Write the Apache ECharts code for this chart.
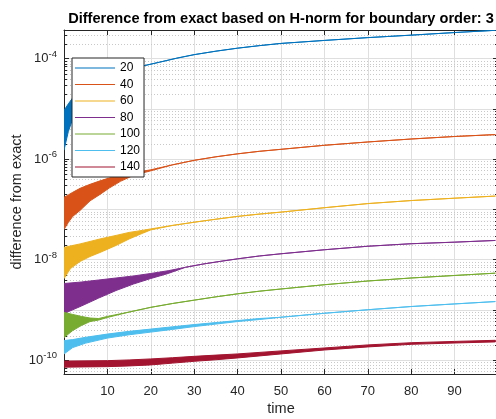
<!DOCTYPE html>
<html><head><meta charset="utf-8">
<script src="https://cdn.jsdelivr.net/npm/echarts@6/dist/echarts.min.js"></script>
<style>html,body{margin:0;padding:0;background:#fff}#c{width:496px;height:419px}</style>
</head><body><div id="c"></div>
<script>
// ---- data ----
const seriesNames = ['20','40','60','80','100','120','140'];

const time20  = [0,1,2,4,8,12,18,22,26,30,35,40,45,50,60,70,80,90,99.4];
const upper20 = [9.33e-6,1.26e-5,1.66e-5,2.51e-5,3.98e-5,5.25e-5,7.10e-5,8.51e-5,1.023e-4,1.202e-4,1.409e-4,1.618e-4,1.816e-4,2.01e-4,2.307e-4,2.624e-4,2.938e-4,3.311e-4,3.664e-4];
const lower20 = [1.51e-6,3.55e-6,6.31e-6,1.26e-5,2.51e-5,4.47e-5,7.10e-5,8.51e-5,1.023e-4,1.202e-4,1.409e-4,1.618e-4,1.816e-4,2.01e-4,2.307e-4,2.624e-4,2.938e-4,3.311e-4,3.664e-4];

const time40  = [0,1,2,3.7,6,8.3,10.5,13,16,20,25,30,35,40,45,50,60,70,80,90,99.4];
const upper40 = [1.734e-7,1.945e-7,2.183e-7,2.624e-7,3.155e-7,3.698e-7,4.246e-7,4.764e-7,5.346e-7,6.138e-7,7.71e-7,9.48e-7,1.114e-6,1.276e-6,1.432e-6,1.570e-6,1.888e-6,2.198e-6,2.518e-6,2.825e-6,3.083e-6];
const lower40 = [4.00e-8,5.508e-8,7.26e-8,9.55e-8,1.479e-7,1.991e-7,2.685e-7,3.614e-7,4.764e-7,5.861e-7,7.71e-7,9.48e-7,1.114e-6,1.276e-6,1.432e-6,1.570e-6,1.888e-6,2.198e-6,2.518e-6,2.825e-6,3.083e-6];

const time60  = [0,1.5,3.7,6,8.3,12,15,18,20,25,30,35,40,45,50,60,70,80,90,99.4];
const upper60 = [1.750e-8,1.875e-8,2.056e-8,2.301e-8,2.582e-8,3.034e-8,3.483e-8,3.819e-8,4.093e-8,4.797e-8,5.559e-8,6.383e-8,7.26e-8,8.072e-8,8.83e-8,1.081e-7,1.306e-7,1.500e-7,1.671e-7,1.841e-7];
const lower60 = [4.217e-9,6.668e-9,9.204e-9,1.156e-8,1.390e-8,1.919e-8,2.582e-8,3.327e-8,3.908e-8,4.797e-8,5.559e-8,6.383e-8,7.26e-8,8.072e-8,8.83e-8,1.081e-7,1.306e-7,1.500e-7,1.671e-7,1.841e-7];

const time80  = [0,4,8,12,16,20,24,28,32,36,40,45,50,60,70,80,90,99.4];
const upper80 = [3.350e-9,3.589e-9,3.936e-9,4.315e-9,4.732e-9,5.309e-9,6.026e-9,7.047e-9,8.166e-9,9.247e-9,1.038e-8,1.183e-8,1.309e-8,1.574e-8,1.849e-8,2.075e-8,2.228e-8,2.410e-8];
const lower80 = [8.45e-10,1.194e-9,1.722e-9,2.432e-9,3.273e-9,4.217e-9,5.309e-9,7.047e-9,8.166e-9,9.247e-9,1.038e-8,1.183e-8,1.309e-8,1.574e-8,1.849e-8,2.075e-8,2.228e-8,2.410e-8];

const time100  = [0,2,4,6,8,10,15,20,25,30,35,40,45,50,60,70,80,90,99.4];
const upper100 = [8.913e-10,8.128e-10,7.413e-10,6.887e-10,6.730e-10,7.413e-10,9.057e-10,1.125e-9,1.340e-9,1.563e-9,1.820e-9,2.089e-9,2.355e-9,2.606e-9,3.170e-9,3.758e-9,4.315e-9,4.842e-9,5.383e-9];
const lower100 = [2.812e-10,3.882e-10,4.887e-10,5.861e-10,6.281e-10,7.079e-10,9.057e-10,1.125e-9,1.340e-9,1.563e-9,1.820e-9,2.089e-9,2.355e-9,2.606e-9,3.170e-9,3.758e-9,4.315e-9,4.842e-9,5.383e-9];

const time120  = [0,2,5,10,15,20,25,30,35,40,45,50,60,70,80,90,99.4];
const upper120 = [2.449e-10,2.564e-10,2.851e-10,3.304e-10,3.741e-10,4.150e-10,4.613e-10,5.105e-10,5.598e-10,6.138e-10,6.730e-10,7.145e-10,8.57e-10,1.007e-9,1.167e-9,1.315e-9,1.466e-9];
const lower120 = [1.327e-10,1.778e-10,2.183e-10,2.748e-10,3.199e-10,3.614e-10,4.093e-10,4.656e-10,5.224e-10,5.861e-10,6.427e-10,7.145e-10,8.57e-10,1.007e-9,1.167e-9,1.315e-9,1.466e-9];

const time140  = [0,10,15,20,25,30,35,40,50,60,70,80,90,99.4];
const upper140 = [9.57e-11,9.77e-11,1.009e-10,1.057e-10,1.117e-10,1.191e-10,1.259e-10,1.330e-10,1.528e-10,1.746e-10,2.010e-10,2.223e-10,2.360e-10,2.483e-10];
const lower140 = [7.26e-11,7.43e-11,7.67e-11,8.04e-11,8.73e-11,9.48e-11,1.019e-10,1.107e-10,1.330e-10,1.592e-10,1.832e-10,2.065e-10,2.193e-10,2.307e-10];

const xTickValues = [10,20,30,40,50,60,70,80,90];
const yLabelExponents = [-4,-6,-8,-10];
const minorMantissas = [2,3,4,5,6,7,8,9];
const minorDecades = [-11,-10,-9,-8,-7,-6,-5,-4];

// ---- styles ----
const colors = ['#0072BD','#D95319','#EDB120','#7E2F8E','#77AC30','#4DBEEE','#A2142F'];
const FONT = '"Liberation Sans", Arial, Helvetica, sans-serif';
const AX = '#262626';
const X_MIN = 0, X_MAX = 100, Y_MIN = 5.3e-11, Y_MAX = 3.72e-4;

const bands = [
  [time20, upper20, lower20],
  [time40, upper40, lower40],
  [time60, upper60, lower60],
  [time80, upper80, lower80],
  [time100, upper100, lower100],
  [time120, upper120, lower120],
  [time140, upper140, lower140]
];

function bandSeries(name, color, t, hi, lo) {
  const pts = t.map((x, i) => [x, hi[i]]).concat(t.map((x, i) => [x, lo[i]]).reverse());
  return {
    type: 'custom', name: name, coordinateSystem: 'cartesian2d',
    xAxisIndex: 0, yAxisIndex: 0, clip: true, z: 3,
    itemStyle: { color: color },
    data: pts,
    encode: { x: 0, y: 1 },
    renderItem: function (params, api) {
      if (params.dataIndex !== 0) return null;
      const poly = pts.map(p => api.coord(p));
      return {
        type: 'polygon',
        shape: { points: poly },
        style: { fill: color, stroke: color, lineWidth: 1, lineJoin: 'round' }
      };
    }
  };
}

const minorValues = [];
minorDecades.forEach(d => minorMantissas.forEach(m => {
  const v = m * Math.pow(10, d);
  if (v > Y_MIN && v < Y_MAX) minorValues.push(v);
}));

const minorGridSeries = {
  type: 'custom', name: 'minorGrid', silent: true, z: 1,
  coordinateSystem: 'cartesian2d', xAxisIndex: 0, yAxisIndex: 0,
  data: minorValues.map(v => [X_MIN, v]),
  encode: { x: 0, y: 1 },
  renderItem: function (params, api) {
    const v = api.value(1);
    const a = api.coord([X_MIN, v]);
    const b = api.coord([X_MAX, v]);
    const y = Math.round(a[1]) + 0.5;
    return {
      type: 'group', children: [
        { type: 'line', shape: { x1: a[0], y1: y, x2: b[0], y2: y }, style: { stroke: '#c8c8c8', lineWidth: 1, lineDash: [1, 2] } },
        { type: 'line', shape: { x1: a[0], y1: y, x2: a[0] + 3, y2: y }, style: { stroke: AX, lineWidth: 1 } },
        { type: 'line', shape: { x1: b[0] - 3, y1: y, x2: b[0], y2: y }, style: { stroke: AX, lineWidth: 1 } }
      ]
    };
  }
};

function yLabel(value) {
  const e = Math.log10(value);
  const r = Math.round(e);
  if (Math.abs(e - r) > 1e-6) return '';
  if (yLabelExponents.indexOf(r) < 0) return '';
  return '{b|10}{s|' + r + '}';
}

const chart = echarts.init(document.getElementById('c'), null, { renderer: 'canvas' });
chart.setOption({
  animation: false,
  backgroundColor: '#fff',
  textStyle: { fontFamily: FONT },
  title: {
    text: 'Difference from exact based on H-norm for boundary order: 3',
    left: 281, top: 11, textAlign: 'center', padding: 0,
    textStyle: { fontSize: 14.6, fontWeight: 'bold', color: '#000', fontFamily: FONT }
  },
  grid: { left: 64, top: 30, width: 434, height: 344, containLabel: false, outerBoundsMode: 'none' },
  legend: {
    orient: 'vertical', left: 72, top: 58,
    data: seriesNames.map((n, i) => ({ name: n, icon: 'rect', itemStyle: { color: colors[i] } })),
    itemWidth: 40, itemHeight: 1, itemGap: 2.5,
    textStyle: { fontSize: 12, color: '#000', lineHeight: 14, fontFamily: FONT },
    backgroundColor: '#fff', borderColor: AX, borderWidth: 1, padding: [3, 4, 3, 3],
    selectedMode: false, z: 10
  },
  xAxis: [
    {
      type: 'value', position: 'bottom', min: X_MIN, max: X_MAX, interval: 10,
      axisLine: { show: true, onZero: false, lineStyle: { color: AX, width: 1 } },
      axisTick: { show: true, inside: true, length: 5, lineStyle: { color: AX } },
      axisLabel: {
        showMinLabel: false, showMaxLabel: false, color: AX, fontSize: 13, margin: 11, fontFamily: FONT,
        formatter: v => (xTickValues.indexOf(v) >= 0 ? String(v) : '')
      },
      splitLine: { show: true, lineStyle: { color: '#dfdfdf', width: 1 } },
      name: 'time', nameLocation: 'middle', nameGap: 27, nameMoveOverlap: false,
      nameTextStyle: { fontSize: 14.5, color: AX, fontFamily: FONT }
    },
    {
      type: 'value', position: 'top', min: X_MIN, max: X_MAX, interval: 10,
      axisLine: { show: true, onZero: false, lineStyle: { color: AX, width: 1 } },
      axisTick: { show: true, inside: true, length: 5, lineStyle: { color: AX } },
      axisLabel: { show: false }, splitLine: { show: false }
    }
  ],
  yAxis: [
    {
      type: 'log', logBase: 10, min: Y_MIN, max: Y_MAX, position: 'left',
      axisLine: { show: true, onZero: false, lineStyle: { color: AX, width: 1 } },
      axisTick: { show: true, inside: true, length: 5, lineStyle: { color: AX } },
      axisLabel: {
        showMinLabel: false, showMaxLabel: false, margin: 7, formatter: yLabel,
        rich: {
          b: { fontSize: 13, color: AX, fontFamily: FONT, verticalAlign: 'bottom', padding: [0, 0, 3, 0] },
          s: { fontSize: 9.5, color: AX, fontFamily: FONT, verticalAlign: 'top', padding: [0, 0, 9, 0] }
        }
      },
      splitLine: { show: true, lineStyle: { color: '#dfdfdf', width: 1 } },
      name: 'difference from exact', nameLocation: 'middle', nameGap: 40, nameMoveOverlap: false,
      nameTextStyle: { fontSize: 14.5, color: AX, fontFamily: FONT }
    },
    {
      type: 'log', logBase: 10, min: Y_MIN, max: Y_MAX, position: 'right',
      axisLine: { show: true, onZero: false, lineStyle: { color: AX, width: 1 } },
      axisTick: { show: true, inside: true, length: 5, lineStyle: { color: AX } },
      axisLabel: { show: false }, splitLine: { show: false }
    }
  ],
  series: [minorGridSeries].concat(bands.map((b, i) => bandSeries(seriesNames[i], colors[i], b[0], b[1], b[2])))
});
</script>
</body></html>
